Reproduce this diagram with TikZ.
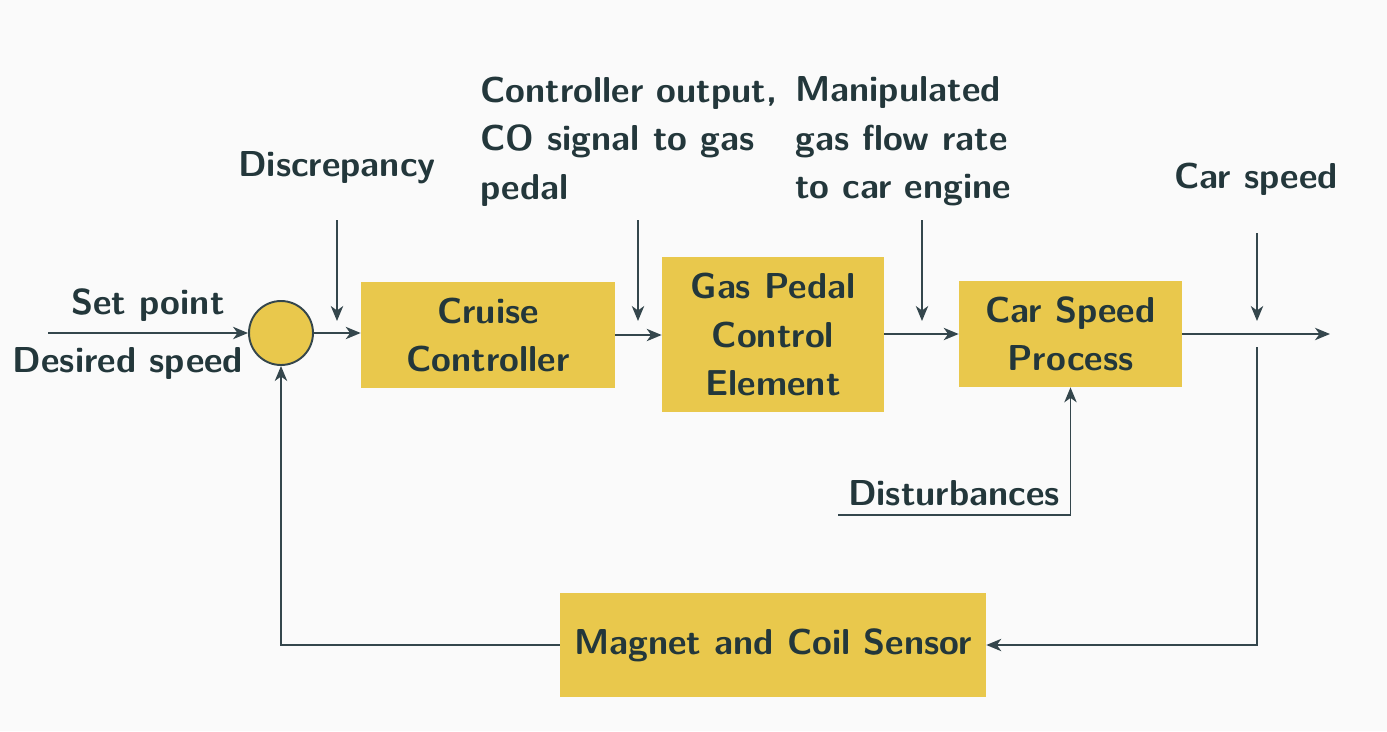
\documentclass[tikz,border=0pt]{standalone}
\usepackage{xcolor}
\usetikzlibrary{arrows.meta, positioning, calc}
\definecolor{darkteal}{HTML}{23373B}
\definecolor{lineteal}{HTML}{34464C}
\definecolor{boxyellow}{HTML}{E9C84C}
\definecolor{pagebg}{HTML}{FAFAFA}
\begin{document}
\begin{tikzpicture}[x=0.02cm, y=-0.02cm,
	font=\sffamily\bfseries\fontsize{20.5}{27.6}\selectfont, text=darkteal,
	block/.style={fill=boxyellow, align=center, inner sep=0pt},
	lbl/.style={inner sep=0pt},
	arr/.style={-{Stealth[length=8.5pt, width=7pt, inset=2.5pt]}, lineteal, line width=1.1pt}]
			\fill[pagebg] (0,0) rectangle (1387,731);
			\useasboundingbox (0,0) rectangle (1387,731);
			\node[circle, draw=lineteal, line width=1.1pt, fill=boxyellow, minimum size=1.28cm, inner sep=0pt] (sum) at (281,333) {};
			\node[block, minimum width=5.08cm, minimum height=2.12cm] (cruise) at (488,335) {Cruise\\Controller};
			\node[block, minimum width=4.44cm, minimum height=3.10cm] (gas) at (773,334.5) {Gas Pedal\\Control\\Element};
			\node[block, minimum width=4.46cm, minimum height=2.12cm] (car) at (1070.5,334) {Car Speed\\Process};
			\node[block, minimum width=8.52cm, minimum height=2.08cm] (sensor) at (773,645) {Magnet and Coil Sensor};
			\node[lbl] (setpt) at (148,305) {Set point};
			\node[lbl] (desired) at (128,363) {Desired speed};
			\node[lbl] (discr) at (337,167.5) {Discrepancy};
			\node[lbl, align=left, anchor=west] (cotext) at (480,141.5) {Controller output,\\CO signal to gas\\pedal};
			\node[lbl, align=left, anchor=west] (mftext) at (795,141.5) {Manipulated\\gas flow rate\\to car engine};
			\node[lbl] (cstext) at (1256,179.5) {Car speed};
			\node[lbl] (disttext) at (954,493) {Disturbances};
			\coordinate (in) at (48,333);
			\coordinate (out) at (1330,334);
			\coordinate (dtop) at (337,220);
			\coordinate (dtip) at (337,321);
			\coordinate (cotop) at (638,220);
			\coordinate (cotip) at (638,321);
			\coordinate (mftop) at (922,220);
			\coordinate (mftip) at (922,321);
			\coordinate (cstop) at (1257,233);
			\coordinate (cstip) at (1257,321);
			\coordinate (fbtop) at (1257,347);
			\coordinate (dstart) at (838,515);
			\draw[arr] (in) -- (sum);
			\draw[arr] (sum) -- (sum -| cruise.west);
			\draw[arr] (cruise) -- (gas.west |- cruise.east);
			\draw[arr] (gas.east |- car.west) -- (car);
			\draw[arr] (car) -- (out);
			\draw[arr] (dtop) -- (dtip);
			\draw[arr] (cotop) -- (cotip);
			\draw[arr] (mftop) -- (mftip);
			\draw[arr] (cstop) -- (cstip);
			\draw[arr] (fbtop) |- (sensor);
			\draw[arr] (sensor) -| (sum);
			\draw[arr] (dstart) -| (car);
		\end{tikzpicture}
\end{document}
